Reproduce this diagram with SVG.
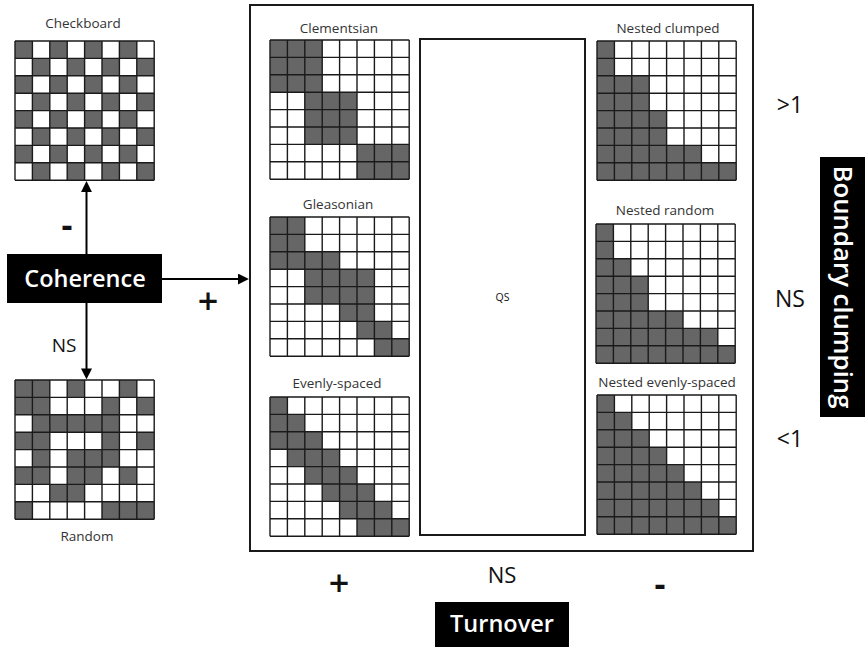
<svg xmlns="http://www.w3.org/2000/svg" xmlns:xlink="http://www.w3.org/1999/xlink" width="865" height="647" viewBox="0 0 865 647">
<style>
text{font-family:"Open Sans","Noto Sans","DejaVu Sans",sans-serif;fill:#111}
.ttl{font-size:13.5px;text-anchor:middle;fill:#333}
.lbl{text-anchor:middle}
.wb{fill:#fff;font-weight:600;text-anchor:middle}
.dk{fill:#666}
.gl{fill:none;stroke:#1a1a1a;stroke-width:1.4}
.frame{fill:none;stroke:#1a1a1a;stroke-width:2}
.blk{fill:#000}
.conn{stroke:#000;stroke-width:2;fill:none;marker-end:url(#ah)}
</style>
<defs>
<marker id="ah" viewBox="0 0 10 10" refX="6" refY="5" markerWidth="11" markerHeight="11" markerUnits="userSpaceOnUse" orient="auto"><path d="M0 0L10 5L0 10z" fill="#000"/></marker>
<rect id="bg" width="139.2" height="139.2" fill="#fff"/>
<path id="gl" class="gl" d="M0 0V139.2M17.4 0V139.2M34.8 0V139.2M52.2 0V139.2M69.6 0V139.2M87 0V139.2M104.4 0V139.2M121.8 0V139.2M139.2 0V139.2M0 0H139.2M0 17.4H139.2M0 34.8H139.2M0 52.2H139.2M0 69.6H139.2M0 87H139.2M0 104.4H139.2M0 121.8H139.2M0 139.2H139.2"/>
</defs>
<rect width="865" height="647" fill="#fff"/>

<g id="frame">
<rect class="frame" x="250" y="5" width="503" height="546"/>
</g>

<g id="checkboard">
<text class="ttl" x="83" y="28">Checkboard</text>
<g transform="translate(15,41)">
<use xlink:href="#bg"/>
<path class="dk" transform="scale(17.4)" d="M0 0h1v1h-1zM2 0h1v1h-1zM4 0h1v1h-1zM6 0h1v1h-1zM1 1h1v1h-1zM3 1h1v1h-1zM5 1h1v1h-1zM7 1h1v1h-1zM0 2h1v1h-1zM2 2h1v1h-1zM4 2h1v1h-1zM6 2h1v1h-1zM1 3h1v1h-1zM3 3h1v1h-1zM5 3h1v1h-1zM7 3h1v1h-1zM0 4h1v1h-1zM2 4h1v1h-1zM4 4h1v1h-1zM6 4h1v1h-1zM1 5h1v1h-1zM3 5h1v1h-1zM5 5h1v1h-1zM7 5h1v1h-1zM0 6h1v1h-1zM2 6h1v1h-1zM4 6h1v1h-1zM6 6h1v1h-1zM1 7h1v1h-1zM3 7h1v1h-1zM5 7h1v1h-1zM7 7h1v1h-1z"/>
<use xlink:href="#gl"/>
</g>
</g>

<g id="random">
<g transform="translate(15,380)">
<use xlink:href="#bg"/>
<path class="dk" transform="scale(17.4)" d="M0 0h2v1h-2zM3 0h1v1h-1zM6 0h1v1h-1zM0 1h2v1h-2zM5 1h1v1h-1zM7 1h1v1h-1zM1 2h5v1h-5zM0 3h2v1h-2zM5 3h1v1h-1zM7 3h1v1h-1zM1 4h1v1h-1zM3 4h3v1h-3zM0 5h2v1h-2zM3 5h2v1h-2zM6 5h1v1h-1zM2 6h2v1h-2zM0 7h1v1h-1zM5 7h3v1h-3z"/>
<use xlink:href="#gl"/>
</g>
<text class="ttl" x="87" y="541">Random</text>
</g>

<g id="coherence">
<rect class="blk" x="7" y="254" width="155" height="49"/>
<text class="wb" x="85" y="287" font-size="23.5">Coherence</text>
</g>

<g id="clementsian">
<text class="ttl" x="339" y="33">Clementsian</text>
<g transform="translate(270,40)">
<use xlink:href="#bg"/>
<path class="dk" transform="scale(17.4)" d="M0 0h3v3h-3zM2 3h3v3h-3zM5 6h3v2h-3z"/>
<use xlink:href="#gl"/>
</g>
</g>

<g id="gleasonian">
<text class="ttl" x="338" y="209">Gleasonian</text>
<g transform="translate(270,217)">
<use xlink:href="#bg"/>
<path class="dk" transform="scale(17.4)" d="M0 0h2v2h-2zM0 2h4v1h-4zM2 3h4v2h-4zM4 5h2v1h-2zM5 6h2v1h-2zM6 7h2v1h-2z"/>
<use xlink:href="#gl"/>
</g>
</g>

<g id="evenly-spaced">
<text class="ttl" x="337" y="388">Evenly-spaced</text>
<g transform="translate(270,397)">
<use xlink:href="#bg"/>
<path class="dk" transform="scale(17.4)" d="M0 0h1v1h-1zM0 1h2v1h-2zM0 2h3v1h-3zM1 3h3v1h-3zM2 4h3v1h-3zM3 5h3v1h-3zM4 6h3v1h-3zM5 7h3v1h-3z"/>
<use xlink:href="#gl"/>
</g>
</g>

<g id="qs">
<rect class="frame" x="420" y="39" width="165" height="496"/>
<text class="lbl" x="502.5" y="301" font-size="10.5" fill="#333">QS</text>
</g>

<g id="nested-clumped">
<text class="ttl" x="668" y="33">Nested clumped</text>
<g transform="translate(597,41)">
<use xlink:href="#bg"/>
<path class="dk" transform="scale(17.4)" d="M0 0H1V2H3V4H4V6H6V7H8V8H0Z"/>
<use xlink:href="#gl"/>
</g>
</g>

<g id="nested-random">
<text class="ttl" x="665" y="215">Nested random</text>
<g transform="translate(596,224)">
<use xlink:href="#bg"/>
<path class="dk" transform="scale(17.4)" d="M0 0H1V2H2V3H3V5H5V6H7V7H8V8H0Z"/>
<use xlink:href="#gl"/>
</g>
</g>

<g id="nested-evenly-spaced">
<text class="ttl" x="667" y="387">Nested evenly-spaced</text>
<g transform="translate(597,395)">
<use xlink:href="#bg"/>
<path class="dk" transform="scale(17.4)" d="M0 0H1V1H2V2H3V3H4V4H5V5H6V6H7V7H8V8H0Z"/>
<use xlink:href="#gl"/>
</g>
</g>

<g id="boundary-clumping">
<rect class="blk" x="820" y="157" width="45" height="260"/>
<text class="wb" transform="translate(843,287) rotate(90)" x="0" y="9" font-size="26" font-weight="700" textLength="243" lengthAdjust="spacingAndGlyphs">Boundary clumping</text>
</g>

<g id="turnover">
<rect class="blk" x="435" y="602" width="134" height="45"/>
<text class="wb" x="502" y="632" font-size="23.5">Turnover</text>
</g>

<g id="connectors">
<line class="conn" x1="86.5" y1="254" x2="86.5" y2="185.5"/>
<line class="conn" x1="86.5" y1="303" x2="86.5" y2="375"/>
<line class="conn" x1="162" y1="279" x2="244.5" y2="279"/>
</g>

<g id="labels">
<text class="lbl" x="67" y="237" font-size="34" font-weight="700">-</text>
<text class="lbl" x="64" y="352" font-size="19">NS</text>
<text class="lbl" x="208" y="314" font-size="36" font-weight="600">+</text>
<text class="lbl" x="790" y="113" font-size="23">&gt;1</text>
<text class="lbl" x="790" y="307" font-size="23">NS</text>
<text class="lbl" x="790" y="447" font-size="23">&lt;1</text>
<text class="lbl" x="339" y="596" font-size="36" font-weight="600">+</text>
<text class="lbl" x="502" y="583" font-size="22">NS</text>
<text class="lbl" x="660" y="596" font-size="34" font-weight="700">-</text>
</g>
</svg>
